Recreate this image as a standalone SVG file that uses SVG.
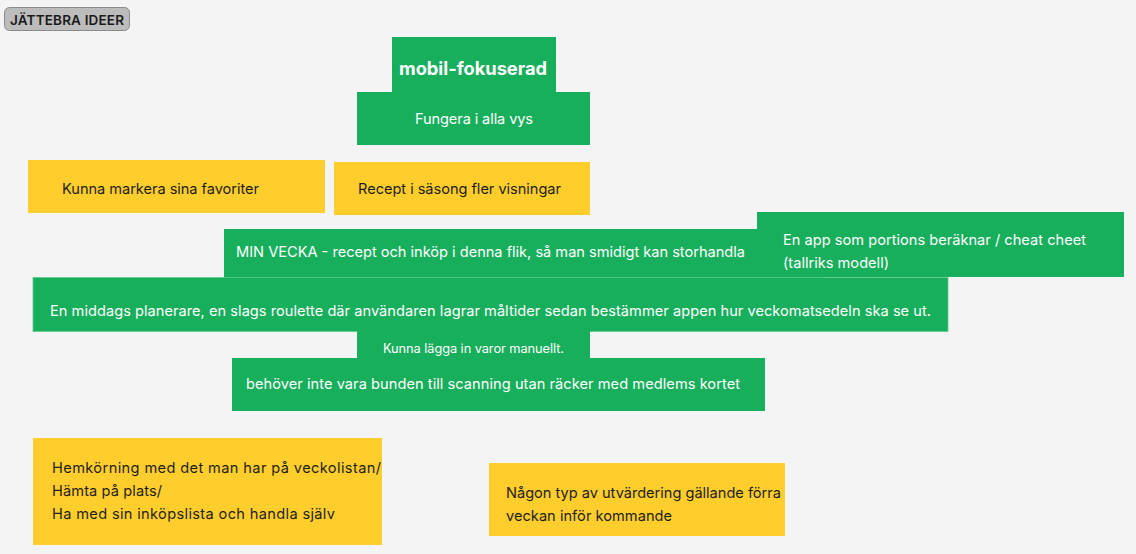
<svg xmlns="http://www.w3.org/2000/svg" width="1136" height="554" viewBox="0 0 1136 554">
<style>
.g{fill:#17ae5c}
.y{fill:#ffcd2c}
.tw{fill:#ffffff;font-family:Inter,"Liberation Sans",sans-serif;font-size:14.6px}
.td{fill:#1e1e1e;font-family:Inter,"Liberation Sans",sans-serif;font-size:14.6px}
.big{font-size:18.3px;font-weight:700}
.small{font-size:12.8px}
</style>
<rect x="0" y="0" width="1136" height="554" fill="#f4f4f4"/>
<g id="label">
<rect x="4.5" y="7.5" width="125" height="23" rx="5" fill="#bcbcbc" stroke="#8a8a8a"/>
<text x="10" y="24.5" textLength="114" font-family="Inter,'Liberation Sans',sans-serif" font-size="13.5" font-weight="600" fill="#1a1a1a">JÄTTEBRA IDEER</text>
</g>
<g id="connectors"></g>
<g id="mobil">
<rect class="g" x="392" y="37" width="164" height="56"/>
<text class="tw big" x="399" y="75" textLength="148">mobil-fokuserad</text>
</g>
<g id="fungera">
<rect class="g" x="357" y="92" width="233" height="53"/>
<text class="tw" x="415" y="124" textLength="118">Fungera i alla vys</text>
</g>
<g id="favoriter">
<rect class="y" x="28" y="160" width="297" height="53"/>
<text class="td" x="62" y="194" textLength="197">Kunna markera sina favoriter</text>
</g>
<g id="sasong">
<rect class="y" x="334" y="162" width="256" height="53"/>
<text class="td" x="358" y="194" textLength="203">Recept i säsong fler visningar</text>
</g>
<g id="minvecka">
<rect class="g" x="224" y="229" width="600" height="49"/>
<text class="tw" x="236" y="257" textLength="509">MIN VECKA - recept och inköp i denna flik, så man smidigt kan storhandla</text>
</g>
<g id="portions">
<rect class="g" x="757" y="212" width="367" height="65"/>
<text class="tw" x="783" y="245" textLength="303">En app som portions beräknar / cheat cheet</text>
<text class="tw" x="783" y="268" textLength="106">(tallriks modell)</text>
</g>
<g id="middag">
<rect class="g" x="33" y="277.5" width="915" height="54" stroke="#5fcb8f" stroke-width="0.8"/>
<text class="tw" x="50" y="316" textLength="881">En middags planerare, en slags roulette där användaren lagrar måltider sedan bestämmer appen hur veckomatsedeln ska se ut.</text>
</g>
<g id="manuellt">
<rect class="g" x="357" y="331" width="233" height="28"/>
<text class="tw small" x="383" y="353" textLength="181">Kunna lägga in varor manuellt.</text>
</g>
<g id="scanning">
<rect class="g" x="232" y="358" width="533" height="53"/>
<text class="tw" x="246" y="389" textLength="494">behöver inte vara bunden till scanning utan räcker med medlems kortet</text>
</g>
<g id="hemkorning">
<rect class="y" x="33" y="438" width="349" height="107"/>
<text class="td" x="52" y="473" textLength="329">Hemkörning med det man har på veckolistan/</text>
<text class="td" x="52" y="496" textLength="110">Hämta på plats/</text>
<text class="td" x="52" y="519" textLength="283">Ha med sin inköpslista och handla själv</text>
</g>
<g id="utvardering">
<rect class="y" x="489" y="463" width="296" height="73"/>
<text class="td" x="506" y="498" textLength="275">Någon typ av utvärdering gällande förra</text>
<text class="td" x="506" y="521" textLength="166">veckan inför kommande</text>
</g>
</svg>
